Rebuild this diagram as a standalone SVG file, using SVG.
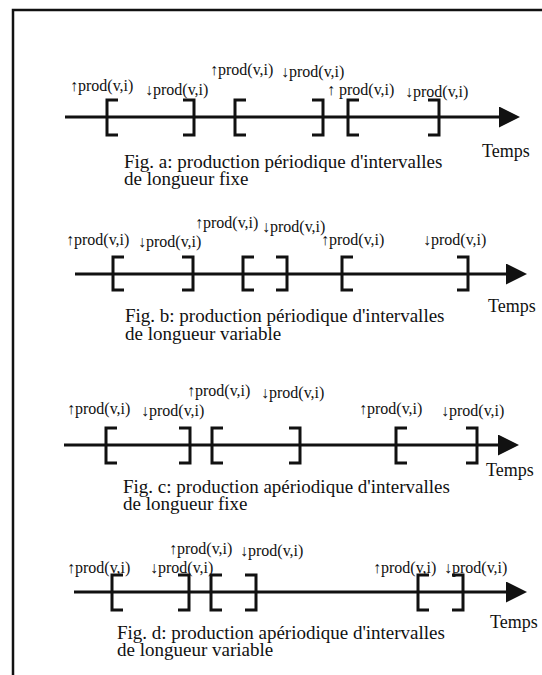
<svg xmlns="http://www.w3.org/2000/svg" width="542" height="675" viewBox="0 0 542 675">
<style>
  .frame{fill:none;stroke:#111;stroke-width:2.5}
  .axis{fill:none;stroke:#111;stroke-width:3}
  .br{fill:none;stroke:#111;stroke-width:3;stroke-linejoin:miter}
  .lbl{font-family:"Liberation Serif","Times New Roman",serif;font-size:16px;fill:#111}
  .cap{font-family:"Liberation Serif","Times New Roman",serif;font-size:19px;fill:#111}
  .tm{font-family:"Liberation Serif","Times New Roman",serif;font-size:18px;fill:#111}
</style>
<defs>
  <marker id="ah" markerWidth="8" markerHeight="7" refX="0" refY="3.5" orient="auto" markerUnits="strokeWidth">
    <path d="M0,0 L7,3.5 L0,7 Z" fill="#111"/>
  </marker>
</defs>
<rect x="0" y="0" width="542" height="675" fill="#fff"/>
<g id="frame">
  <path class="frame" d="M542,10 H13 V675"/>
</g>

<g id="connectors">
  <line class="axis" x1="65" y1="117" x2="499" y2="117" marker-end="url(#ah)"/>
  <line class="axis" x1="75" y1="274" x2="506" y2="274" marker-end="url(#ah)"/>
  <line class="axis" x1="64" y1="445" x2="498" y2="445" marker-end="url(#ah)"/>
  <line class="axis" x1="74" y1="592" x2="506" y2="592" marker-end="url(#ah)"/>
</g>

<g id="fig-a">
  <path class="br" d="M118,100 H107 V135 H118"/>
  <path class="br" d="M183,100 H194 V135 H183"/>
  <path class="br" d="M246,100 H235 V135 H246"/>
  <path class="br" d="M312,100 H323 V135 H312"/>
  <path class="br" d="M359,100 H348 V135 H359"/>
  <path class="br" d="M428,100 H439 V135 H428"/>
  <text class="lbl" x="70" y="91">↑prod(v,i)</text>
  <text class="lbl" x="145" y="95">↓prod(v,i)</text>
  <text class="lbl" x="210" y="75">↑prod(v,i)</text>
  <text class="lbl" x="281" y="77">↓prod(v,i)</text>
  <text class="lbl" x="327" y="95">↑ prod(v,i)</text>
  <text class="lbl" x="405" y="97">↓prod(v,i)</text>
  <text class="tm" x="482" y="157">Temps</text>
  <text class="cap" x="124" y="168">Fig. a: production périodique d'intervalles</text>
  <text class="cap" x="124" y="185">de longueur fixe</text>
</g>

<g id="fig-b">
  <path class="br" d="M124,257 H113 V290 H124"/>
  <path class="br" d="M182,257 H193 V290 H182"/>
  <path class="br" d="M254,257 H243 V290 H254"/>
  <path class="br" d="M276,257 H287 V290 H276"/>
  <path class="br" d="M353,257 H342 V290 H353"/>
  <path class="br" d="M457,257 H468 V290 H457"/>
  <text class="lbl" x="66" y="245">↑prod(v,i)</text>
  <text class="lbl" x="138" y="247">↓prod(v,i)</text>
  <text class="lbl" x="195" y="228">↑prod(v,i)</text>
  <text class="lbl" x="262" y="232">↓prod(v,i)</text>
  <text class="lbl" x="321" y="245">↑prod(v,i)</text>
  <text class="lbl" x="423" y="245">↓prod(v,i)</text>
  <text class="tm" x="488" y="312">Temps</text>
  <text class="cap" x="125" y="322">Fig. b: production périodique d'intervalles</text>
  <text class="cap" x="125" y="340">de longueur variable</text>
</g>

<g id="fig-c">
  <path class="br" d="M117,428 H106 V463 H117"/>
  <path class="br" d="M179,428 H190 V463 H179"/>
  <path class="br" d="M223,428 H212 V463 H223"/>
  <path class="br" d="M289,428 H300 V463 H289"/>
  <path class="br" d="M407,428 H396 V463 H407"/>
  <path class="br" d="M466,428 H477 V463 H466"/>
  <text class="lbl" x="67" y="414">↑prod(v,i)</text>
  <text class="lbl" x="141" y="416">↓prod(v,i)</text>
  <text class="lbl" x="187" y="396">↑prod(v,i)</text>
  <text class="lbl" x="261" y="398">↓prod(v,i)</text>
  <text class="lbl" x="359" y="414">↑prod(v,i)</text>
  <text class="lbl" x="441" y="416">↓prod(v,i)</text>
  <text class="tm" x="486" y="476">Temps</text>
  <text class="cap" x="123" y="493">Fig. c: production apériodique d'intervalles</text>
  <text class="cap" x="123" y="510">de longueur fixe</text>
</g>

<g id="fig-d">
  <path class="br" d="M123,575 H112 V610 H123"/>
  <path class="br" d="M178,575 H189 V610 H178"/>
  <path class="br" d="M222,575 H211 V610 H222"/>
  <path class="br" d="M245,575 H256 V610 H245"/>
  <path class="br" d="M429,575 H418 V610 H429"/>
  <path class="br" d="M452,575 H463 V610 H452"/>
  <text class="lbl" x="67" y="573">↑prod(v,i)</text>
  <text class="lbl" x="150" y="573">↓prod(v,i)</text>
  <text class="lbl" x="169" y="554">↑prod(v,i)</text>
  <text class="lbl" x="240" y="556">↓prod(v,i)</text>
  <text class="lbl" x="373" y="573">↑prod(v,i)</text>
  <text class="lbl" x="444" y="573">↓prod(v,i)</text>
  <text class="tm" x="490" y="628">Temps</text>
  <text class="cap" x="117" y="639">Fig. d: production apériodique d'intervalles</text>
  <text class="cap" x="117" y="656">de longueur variable</text>
</g>
</svg>
